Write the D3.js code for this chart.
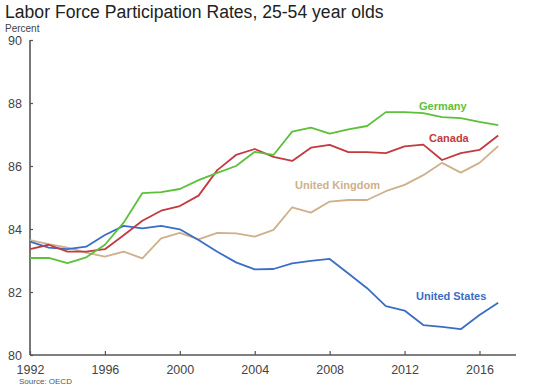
<!DOCTYPE html>
<html>
<head>
<meta charset="utf-8">
<script src="https://cdn.jsdelivr.net/npm/d3@7"></script>
<style>
body { margin: 0; background: #fff; font-family: "Liberation Sans", Arial, sans-serif; }
</style>
</head>
<body>
<div id="chart"></div>
<script>
var years = d3.range(1992, 2018)
var germany = [83.08, 83.08, 82.92, 83.1, 83.5, 84.2, 85.14, 85.17, 85.27, 85.55, 85.78, 86.0, 86.45, 86.35, 87.09, 87.22, 87.03, 87.16, 87.27, 87.71, 87.71, 87.68, 87.55, 87.52, 87.4, 87.3]
var canada = [83.36, 83.5, 83.28, 83.28, 83.36, 83.8, 84.26, 84.58, 84.73, 85.06, 85.87, 86.35, 86.54, 86.29, 86.16, 86.58, 86.67, 86.44, 86.44, 86.41, 86.62, 86.68, 86.19, 86.41, 86.51, 86.97]
var uk = [83.65, 83.52, 83.41, 83.25, 83.12, 83.28, 83.07, 83.7, 83.88, 83.67, 83.88, 83.86, 83.76, 83.97, 84.69, 84.52, 84.87, 84.92, 84.92, 85.2, 85.4, 85.71, 86.1, 85.79, 86.1, 86.63]
var us = [83.6, 83.41, 83.36, 83.44, 83.81, 84.1, 84.02, 84.1, 83.99, 83.65, 83.28, 82.94, 82.72, 82.73, 82.91, 82.99, 83.05, 82.59, 82.12, 81.55, 81.41, 80.95, 80.89, 80.82, 81.27, 81.66]
var xTicks = [1992, 1996, 2000, 2004, 2008, 2012, 2016]
var yTicks = [80, 82, 84, 86, 88, 90]

var width = 539, height = 390
var svg = d3.select("#chart").append("svg")
    .attr("width", width)
    .attr("height", height)

var x = d3.scaleLinear().domain([1992, 2017.95]).range([30, 516])
var y = d3.scaleLinear().domain([80, 90]).range([355, 40])

svg.append("text")
    .attr("x", 5).attr("y", 18)
    .attr("fill", "#222")
    .style("font-size", "17.6px")
    .text("Labor Force Participation Rates, 25-54 year olds")

svg.append("text")
    .attr("x", 5).attr("y", 32)
    .attr("fill", "#444")
    .style("font-size", "10px")
    .text("Percent")

// axes
var xAxis = d3.axisBottom(x).tickValues(xTicks).tickFormat(d3.format("d")).tickSize(-4).tickPadding(10)
var yAxis = d3.axisLeft(y).tickValues(yTicks).tickSize(-3).tickPadding(8)

var gx = svg.append("g").attr("transform", "translate(0," + y(80) + ")").call(xAxis)
var gy = svg.append("g").attr("transform", "translate(" + x(1992) + ",0)").call(yAxis)

;[gx, gy].forEach(function(g) {
    g.select(".domain").attr("stroke", "#555").attr("stroke-width", 1.6)
    g.selectAll(".tick line").attr("stroke", "#555").attr("stroke-width", 1.2)
    g.selectAll(".tick text")
        .attr("fill", "#444")
        .style("font-family", "Liberation Sans, Arial, sans-serif")
        .style("font-size", "12.5px")
})
gx.select(".domain").attr("d", "M" + x(1992) + ",0H" + 516)
gy.select(".domain").attr("d", "M0," + y(80) + "V" + y(90))

svg.append("text")
    .attr("x", 19).attr("y", 384)
    .attr("fill", "#555")
    .style("font-size", "8px")
    .text("Source: OECD")

var line = d3.line()
    .x(function(d, i) { return x(years[i]) })
    .y(function(d) { return y(d) })

var series = [
    {name: "United Kingdom", values: uk, color: "#cfb08a", lx: 295, ly: 189},
    {name: "United States", values: us, color: "#3a6dc6", lx: 416, ly: 300},
    {name: "Canada", values: canada, color: "#c23a40", lx: 429, ly: 142},
    {name: "Germany", values: germany, color: "#5cc03a", lx: 419, ly: 110}
]

series.forEach(function(s) {
    svg.append("path")
        .datum(s.values)
        .attr("d", line)
        .attr("fill", "none")
        .attr("stroke", s.color)
        .attr("stroke-width", 1.8)
        .attr("stroke-linejoin", "round")
    svg.append("text")
        .attr("x", s.lx).attr("y", s.ly)
        .attr("fill", s.color)
        .style("font-size", "11px")
        .style("font-weight", "bold")
        .text(s.name)
})
</script>
</body>
</html>
